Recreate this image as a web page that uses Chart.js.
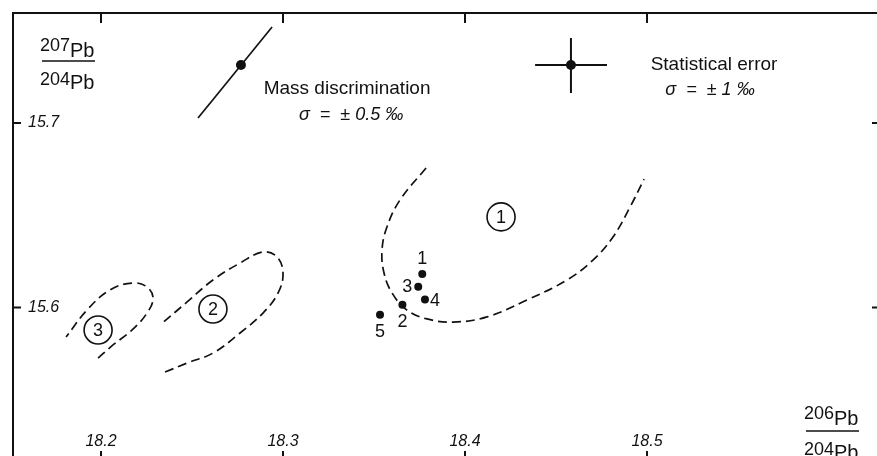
<!DOCTYPE html>
<html><head><meta charset="utf-8">
<script src="https://cdn.jsdelivr.net/npm/chart.js@4/dist/chart.umd.min.js"></script>
<style>
html,body{margin:0;padding:0;background:#fff;overflow:hidden;width:877px;height:456px}
#wrap{position:absolute;left:0;top:0;width:880px;height:459px}
canvas{display:block}
</style></head>
<body><div id="wrap"><canvas id="c" width="880" height="459" style="width:880px;height:459px"></canvas></div>
<script>
// ---- axis ticks ----
const xTickValues = [18.2, 18.3, 18.4, 18.5];
const yTickValues = [15.6, 15.7];
const xMin = 18.15165, xMax = 18.628;
const yMin = 15.5179, yMax = 15.7596;

// ---- samples 1..5 ----
const sampleLabels = ['1', '2', '3', '4', '5'];
const sampleX = [18.3765, 18.3656, 18.3743, 18.3780, 18.3533];
const sampleY = [15.6182, 15.6015, 15.6113, 15.6044, 15.5961];

// ---- field labels (circled numbers) ----
const fieldLabels = ['1', '2', '3'];
const fieldX = [18.4198, 18.2615, 18.1984];
const fieldY = [15.6491, 15.5992, 15.5878];

// ---- dashed outlines of fields ----
const field1X = [18.3786, 18.3643, 18.3571, 18.3544, 18.3555, 18.3599, 18.3681, 18.3791, 18.3934, 18.4121, 18.4341, 18.4560, 18.4703, 18.4813, 18.4907, 18.4984];
const field1Y = [15.6756, 15.6583, 15.6436, 15.6312, 15.6187, 15.6079, 15.5986, 15.5938, 15.5921, 15.5949, 15.6041, 15.6149, 15.6257, 15.6382, 15.6545, 15.6696];
const field2X = [18.2352, 18.2473, 18.2615, 18.2764, 18.2890, 18.2973, 18.3000, 18.2967, 18.2890, 18.2764, 18.2615, 18.2473, 18.2324];
const field2Y = [15.5650, 15.5699, 15.5753, 15.5862, 15.5970, 15.6079, 15.6187, 15.6274, 15.6301, 15.6241, 15.6149, 15.6030, 15.5905];
const field3X = [18.1984, 18.2066, 18.2170, 18.2253, 18.2286, 18.2253, 18.2176, 18.2049, 18.1923, 18.1808];
const field3Y = [15.5726, 15.5797, 15.5878, 15.5970, 15.6051, 15.6111, 15.6133, 15.6095, 15.5986, 15.5840];

// ---- error symbols ----
const massLineX = [18.2533, 18.2940];
const massLineY = [15.7027, 15.7520];
const massDotX = [18.2769];
const massDotY = [15.7314];
const statX = [18.4582];
const statY = [15.7314];
const statHorizX = [18.4385, 18.4780];
const statVertY = [15.7461, 15.7163];

// ---- annotation texts ----
const noteTexts = ['Mass discrimination', 'σ  =  ± 0.5 ‰', 'Statistical error', 'σ  =  ± 1 ‰'];
const noteX = [18.3352, 18.3374, 18.5368, 18.5346];
const noteY = [15.7184, 15.7043, 15.7314, 15.7179];

// ---- helpers / styles ----
const pts = (xs, ys) => xs.map((x, i) => ({x, y: ys[i]}));
const INK = '#111';
const FONT = "'Liberation Sans', Arial, sans-serif";
const NARROW = "'Liberation Sans Narrow', 'Liberation Sans', Arial, sans-serif";
const sampleAnchor = ['top', 'bottom', 'left', 'right', 'bottom'];

const dashed = (data) => ({
  data, showLine: true, pointRadius: 0, borderColor: INK, borderWidth: 1.7,
  borderDash: [9, 5], tension: 0.4, fill: false, order: 5
});
const solid = (data, w) => ({
  data, showLine: true, pointRadius: 0, borderColor: INK, borderWidth: w, tension: 0, fill: false, order: 4
});

const refPlugin = {
  id: 'refPlugin',
  afterDatasetsDraw(chart) {
    const ctx = chart.ctx;
    const xs = chart.scales.x, ys = chart.scales.y;
    ctx.save();
    ctx.fillStyle = INK;
    ctx.textBaseline = 'middle';
    ctx.textAlign = 'center';
    // circled field numbers
    ctx.font = `18px ${NARROW}`;
    chart.getDatasetMeta(0).data.forEach((el, i) => {
      ctx.fillText(fieldLabels[i], el.x, el.y + 1);
    });
    // sample numbers
    ctx.font = `18px ${FONT}`;
    chart.getDatasetMeta(1).data.forEach((el, i) => {
      const a = sampleAnchor[i];
      let dx = 0, dy = 0;
      if (a === 'top') dy = -15;
      if (a === 'bottom') dy = 17;
      if (a === 'left') dx = -11;
      if (a === 'right') { dx = 10; dy = 2; }
      ctx.fillText(sampleLabels[i], el.x + dx, el.y + dy);
    });
    // annotations
    noteTexts.forEach((t, i) => {
      ctx.font = t.startsWith('σ') ? `italic 18px ${FONT}` : `19px ${FONT}`;
      ctx.fillText(t, xs.getPixelForValue(noteX[i]), ys.getPixelForValue(noteY[i]));
    });
    ctx.restore();
  },
  afterDraw(chart) {
    const ctx = chart.ctx;
    const {left, top, right, bottom} = chart.chartArea;
    const xs = chart.scales.x, ys = chart.scales.y;
    ctx.save();
    ctx.strokeStyle = INK;
    ctx.lineWidth = 2;
    ctx.beginPath();
    ctx.moveTo(left, bottom); ctx.lineTo(left, top); ctx.lineTo(right, top);
    ctx.lineTo(right, bottom); ctx.closePath();
    ctx.stroke();
    const seg = (a, b, c, d) => { ctx.beginPath(); ctx.moveTo(a, b); ctx.lineTo(c, d); ctx.stroke(); };
    xTickValues.forEach(v => {
      const p = xs.getPixelForValue(v);
      seg(p, top, p, top + 10);
      seg(p, bottom - 8, p, bottom);
    });
    yTickValues.forEach(v => {
      const p = ys.getPixelForValue(v);
      seg(left, p, left + 8, p);
      seg(right - 8, p, right, p);
    });
    // axis titles as isotope ratios
    ctx.fillStyle = INK;
    ctx.textAlign = 'left';
    ctx.textBaseline = 'alphabetic';
    const ratio = (x0, yNum, yBar, yDen, num, den) => {
      ctx.font = `18px ${NARROW}`;
      ctx.fillText(num, x0, yNum - 6);
      let w = ctx.measureText(num).width;
      ctx.font = `20px ${FONT}`;
      ctx.fillText('Pb', x0 + w, yNum);
      ctx.font = `18px ${NARROW}`;
      ctx.fillText(den, x0, yDen - 4);
      let w2 = ctx.measureText(den).width;
      ctx.font = `20px ${FONT}`;
      ctx.fillText('Pb', x0 + w2, yDen);
      ctx.lineWidth = 1.5;
      seg(x0 + 2, yBar, x0 + 55, yBar);
    };
    ratio(40, 57, 61, 89, '207', '204');
    ratio(804, 425, 431, 459, '206', '204');
    ctx.restore();
  }
};

new Chart(document.getElementById('c'), {
  type: 'scatter',
  data: {
    datasets: [
      { data: pts(fieldX, fieldY), pointRadius: 14, pointBackgroundColor: '#fff', pointBorderColor: INK, pointBorderWidth: 1.6, order: 0 },
      { data: pts(sampleX, sampleY), pointRadius: 4, pointBackgroundColor: INK, pointBorderWidth: 0, order: 1 },
      { data: pts(massDotX, massDotY), pointRadius: 5, pointBackgroundColor: INK, pointBorderWidth: 0, order: 1 },
      { data: pts(statX, statY), pointRadius: 5, pointBackgroundColor: INK, pointBorderWidth: 0, order: 1 },
      solid(pts(massLineX, massLineY), 1.7),
      solid(pts(statHorizX, [statY[0], statY[0]]), 2),
      solid(pts([statX[0], statX[0]], statVertY), 2),
      dashed(pts(field1X, field1Y)),
      dashed(pts(field2X, field2Y)),
      dashed(pts(field3X, field3Y))
    ]
  },
  options: {
    responsive: false,
    animation: false,
    devicePixelRatio: 1,
    layout: { autoPadding: false, padding: { left: 13, top: 13, right: 0, bottom: 0 } },
    plugins: { legend: { display: false }, tooltip: { enabled: false } },
    scales: {
      x: {
        type: 'linear', min: xMin, max: xMax,
        position: { y: yMin },
        grid: { display: false, drawTicks: false },
        border: { display: false },
        afterBuildTicks: s => { s.ticks = xTickValues.map(v => ({value: v})); },
        afterFit: s => { s.paddingLeft = 0; s.paddingRight = 0; s.paddingTop = 0; s.paddingBottom = 0; },
        ticks: {
          autoSkip: false, maxRotation: 0, padding: -27, color: INK,
          font: { family: FONT, size: 16, style: 'italic' },
          callback: v => v.toFixed(1)
        }
      },
      y: {
        type: 'linear', min: yMin, max: yMax,
        grid: { display: false, drawTicks: false },
        border: { display: false },
        afterBuildTicks: s => { s.ticks = yTickValues.map(v => ({value: v})); },
        afterFit: s => { s.width = 0; s.paddingLeft = 0; s.paddingRight = 0; s.paddingTop = 0; s.paddingBottom = 0; },
        ticks: {
          mirror: true, padding: 15, color: INK,
          font: { family: FONT, size: 16, style: 'italic' },
          callback: v => v.toFixed(1)
        }
      }
    }
  },
  plugins: [refPlugin]
});
</script>
</body></html>
